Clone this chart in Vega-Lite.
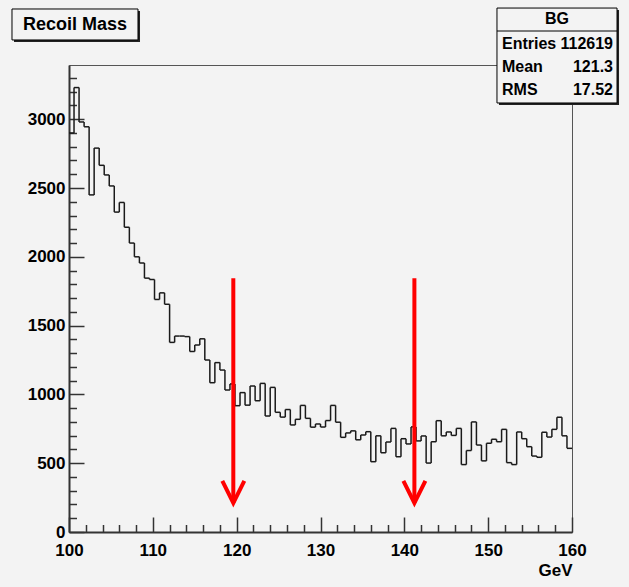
{
  "$schema": "https://vega.github.io/schema/vega-lite/v6.json",
  "width": 503,
  "height": 467,
  "autosize": {"type": "none"},
  "padding": {"left": 69, "top": 65, "right": 57, "bottom": 55},
  "background": "#f3f3f3",
  "config": {"view": {"stroke": "#555555", "strokeWidth": 1}},
  "resolve": {"axis": {"x": "independent", "y": "independent"}},
  "data": {"values": [
    {"lo":100,"hi":100.6,"count":2900},{"lo":100.6,"hi":101.2,"count":3230},{"lo":101.2,"hi":101.8,"count":2980},{"lo":101.8,"hi":102.4,"count":2945},{"lo":102.4,"hi":103,"count":2450},
    {"lo":103,"hi":103.6,"count":2790},{"lo":103.6,"hi":104.2,"count":2665},{"lo":104.2,"hi":104.8,"count":2595},{"lo":104.8,"hi":105.4,"count":2515},{"lo":105.4,"hi":106,"count":2325},
    {"lo":106,"hi":106.6,"count":2395},{"lo":106.6,"hi":107.2,"count":2215},{"lo":107.2,"hi":107.8,"count":2100},{"lo":107.8,"hi":108.4,"count":2000},{"lo":108.4,"hi":109,"count":1955},
    {"lo":109,"hi":109.6,"count":1845},{"lo":109.6,"hi":110.2,"count":1835},{"lo":110.2,"hi":110.8,"count":1690},{"lo":110.8,"hi":111.4,"count":1738},{"lo":111.4,"hi":112,"count":1655},
    {"lo":112,"hi":112.6,"count":1378},{"lo":112.6,"hi":113.2,"count":1424},{"lo":113.2,"hi":113.8,"count":1424},{"lo":113.8,"hi":114.4,"count":1420},{"lo":114.4,"hi":115,"count":1312},
    {"lo":115,"hi":115.6,"count":1359},{"lo":115.6,"hi":116.2,"count":1404},{"lo":116.2,"hi":116.8,"count":1250},{"lo":116.8,"hi":117.4,"count":1085},{"lo":117.4,"hi":118,"count":1231},
    {"lo":118,"hi":118.6,"count":1177},{"lo":118.6,"hi":119.2,"count":1032},{"lo":119.2,"hi":119.8,"count":1076},{"lo":119.8,"hi":120.4,"count":918},{"lo":120.4,"hi":121,"count":1013},
    {"lo":121,"hi":121.6,"count":922},{"lo":121.6,"hi":122.2,"count":1061},{"lo":122.2,"hi":122.8,"count":954},{"lo":122.8,"hi":123.4,"count":1080},{"lo":123.4,"hi":124,"count":843},
    {"lo":124,"hi":124.6,"count":1051},{"lo":124.6,"hi":125.2,"count":870},{"lo":125.2,"hi":125.8,"count":835},{"lo":125.8,"hi":126.4,"count":890},{"lo":126.4,"hi":127,"count":778},
    {"lo":127,"hi":127.6,"count":819},{"lo":127.6,"hi":128.2,"count":920},{"lo":128.2,"hi":128.8,"count":826},{"lo":128.8,"hi":129.4,"count":762},{"lo":129.4,"hi":130,"count":785},
    {"lo":130,"hi":130.6,"count":763},{"lo":130.6,"hi":131.2,"count":810},{"lo":131.2,"hi":131.8,"count":920},{"lo":131.8,"hi":132.4,"count":798},{"lo":132.4,"hi":133,"count":688},
    {"lo":133,"hi":133.6,"count":720},{"lo":133.6,"hi":134.2,"count":735},{"lo":134.2,"hi":134.8,"count":670},{"lo":134.8,"hi":135.4,"count":705},{"lo":135.4,"hi":136,"count":729},
    {"lo":136,"hi":136.6,"count":511},{"lo":136.6,"hi":137.2,"count":699},{"lo":137.2,"hi":137.8,"count":576},{"lo":137.8,"hi":138.4,"count":654},{"lo":138.4,"hi":139,"count":753},
    {"lo":139,"hi":139.6,"count":547},{"lo":139.6,"hi":140.2,"count":678},{"lo":140.2,"hi":140.8,"count":640},{"lo":140.8,"hi":141.4,"count":764},{"lo":141.4,"hi":142,"count":662},
    {"lo":142,"hi":142.6,"count":698},{"lo":142.6,"hi":143.2,"count":501},{"lo":143.2,"hi":143.8,"count":656},{"lo":143.8,"hi":144.4,"count":809},{"lo":144.4,"hi":145,"count":699},
    {"lo":145,"hi":145.6,"count":727},{"lo":145.6,"hi":146.2,"count":702},{"lo":146.2,"hi":146.8,"count":753},{"lo":146.8,"hi":147.4,"count":490},{"lo":147.4,"hi":148,"count":592},
    {"lo":148,"hi":148.6,"count":800},{"lo":148.6,"hi":149.2,"count":632},{"lo":149.2,"hi":149.8,"count":517},{"lo":149.8,"hi":150.4,"count":645},{"lo":150.4,"hi":151,"count":674},
    {"lo":151,"hi":151.6,"count":656},{"lo":151.6,"hi":152.2,"count":746},{"lo":152.2,"hi":152.8,"count":504},{"lo":152.8,"hi":153.4,"count":490},{"lo":153.4,"hi":154,"count":727},
    {"lo":154,"hi":154.6,"count":678},{"lo":154.6,"hi":155.2,"count":620},{"lo":155.2,"hi":155.8,"count":552},{"lo":155.8,"hi":156.4,"count":543},{"lo":156.4,"hi":157,"count":725},
    {"lo":157,"hi":157.6,"count":690},{"lo":157.6,"hi":158.2,"count":746},{"lo":158.2,"hi":158.8,"count":834},{"lo":158.8,"hi":159.4,"count":699},{"lo":159.4,"hi":160,"count":608}
  ]},
  "layer": [
    {
      "mark": {"type": "rule", "color": "#1a1a1a", "strokeWidth": 1.5},
      "encoding": {
        "x": {"field": "lo", "type": "quantitative",
          "scale": {"domain": [100, 160], "nice": false},
          "axis": {
            "orient": "bottom", "title": "GeV", "format": "d",
            "values": [100,110,120,130,140,150,160],
            "grid": false, "domainColor": "#333333", "domainWidth": 2,
            "tickColor": "#333333", "tickWidth": 1.5, "tickSize": -15,
            "labelPadding": 25, "labelFlush": false, "labelOverlap": false,
            "labelFont": "Liberation Sans, Arial, sans-serif", "labelFontSize": 17, "labelFontWeight": "bold", "labelColor": "#000000",
            "titleFont": "Liberation Sans, Arial, sans-serif", "titleFontSize": 17, "titleFontWeight": "bold", "titleColor": "#000000",
            "titleAnchor": "end", "titleAlign": "right", "titlePadding": 4
          }},
        "x2": {"field": "hi"},
        "y": {"field": "count", "type": "quantitative",
          "scale": {"domain": [0, 3394], "nice": false, "zero": false},
          "axis": {
            "orient": "left", "title": null, "format": "d",
            "values": [0,500,1000,1500,2000,2500,3000],
            "grid": false, "domainColor": "#333333", "domainWidth": 2,
            "tickColor": "#333333", "tickWidth": 1.5, "tickSize": -15,
            "labelPadding": 19, "labelOverlap": false, "labelFlush": false,
            "labelFont": "Liberation Sans, Arial, sans-serif", "labelFontSize": 17, "labelFontWeight": "bold", "labelColor": "#000000"
          }}
      }
    },
    {
      "transform": [
        {"window": [{"op": "lag", "field": "count", "as": "prev"}], "sort": [{"field": "lo", "order": "ascending"}]},
        {"filter": "datum.prev != null"}
      ],
      "mark": {"type": "rule", "color": "#1a1a1a", "strokeWidth": 1.5},
      "encoding": {
        "x": {"field": "lo", "type": "quantitative",
          "axis": {
            "orient": "bottom", "title": null, "labels": false, "domain": false, "grid": false,
            "values": [102,104,106,108,112,114,116,118,122,124,126,128,132,134,136,138,142,144,146,148,152,154,156,158],
            "tickColor": "#333333", "tickWidth": 1.5, "tickSize": -7.5
          }},
        "y": {"field": "count", "type": "quantitative",
          "axis": {
            "orient": "left", "title": null, "labels": false, "domain": false, "grid": false,
            "values": [100,200,300,400,600,700,800,900,1100,1200,1300,1400,1600,1700,1800,1900,2100,2200,2300,2400,2600,2700,2800,2900,3100,3200,3300],
            "tickColor": "#333333", "tickWidth": 1.5, "tickSize": -7.5
          }},
        "y2": {"field": "prev"}
      }
    },
    {
      "data": {"values": [{"cut": 119.6, "top": 1845, "tip": 211}, {"cut": 141.2, "top": 1845, "tip": 211}]},
      "mark": {"type": "rule", "color": "#ff0000", "strokeWidth": 4},
      "encoding": {
        "x": {"field": "cut", "type": "quantitative", "axis": null},
        "y": {"field": "top", "type": "quantitative", "axis": null},
        "y2": {"field": "tip"}
      }
    },
    {
      "data": {"values": [{"cut": 119.6, "top": 1845, "tip": 211}, {"cut": 141.2, "top": 1845, "tip": 211}]},
      "mark": {"type": "point", "shape": "M-1,-2L0,0L1,-2", "size": 484, "filled": false, "stroke": "#ff0000", "strokeWidth": 4, "opacity": 1},
      "encoding": {
        "x": {"field": "cut", "type": "quantitative", "axis": null},
        "y": {"field": "tip", "type": "quantitative", "axis": null}
      }
    },
    {
      "data": {"values": [{}]},
      "mark": {"type": "rect", "fill": "#222222"},
      "encoding": {
        "x": {"datum": 93.44, "type": "quantitative", "axis": null}, "x2": {"datum": 108.47},
        "y": {"datum": 3786, "type": "quantitative", "axis": null}, "y2": {"datum": 3561}
      }
    },
    {
      "data": {"values": [{}]},
      "mark": {"type": "rect", "fill": "#f3f3f3", "stroke": "#000000", "strokeWidth": 1},
      "encoding": {
        "x": {"datum": 93.2, "type": "quantitative", "axis": null}, "x2": {"datum": 108.23},
        "y": {"datum": 3801, "type": "quantitative", "axis": null}, "y2": {"datum": 3576}
      }
    },
    {
      "data": {"values": [{}]},
      "mark": {"type": "text", "text": "Recoil Mass", "font": "Liberation Sans, Arial, sans-serif", "fontSize": 18, "fontWeight": "bold", "color": "#000000", "align": "center", "baseline": "middle"},
      "encoding": {
        "x": {"datum": 100.72, "type": "quantitative", "axis": null},
        "y": {"datum": 3688, "type": "quantitative", "axis": null}
      }
    },
    {
      "data": {"values": [{}]},
      "mark": {"type": "rect", "fill": "#222222"},
      "encoding": {
        "x": {"datum": 151.29, "type": "quantitative", "axis": null}, "x2": {"datum": 165.61},
        "y": {"datum": 3794, "type": "quantitative", "axis": null}, "y2": {"datum": 3103}
      }
    },
    {
      "data": {"values": [{}]},
      "mark": {"type": "rect", "fill": "#f3f3f3", "stroke": "#000000", "strokeWidth": 1},
      "encoding": {
        "x": {"datum": 151.05, "type": "quantitative", "axis": null}, "x2": {"datum": 165.37},
        "y": {"datum": 3808, "type": "quantitative", "axis": null}, "y2": {"datum": 3118}
      }
    },
    {
      "data": {"values": [{}]},
      "mark": {"type": "rule", "color": "#000000", "strokeWidth": 1},
      "encoding": {
        "x": {"datum": 151.05, "type": "quantitative", "axis": null}, "x2": {"datum": 165.37},
        "y": {"datum": 3641, "type": "quantitative", "axis": null}
      }
    },
    {
      "data": {"values": [{}]},
      "mark": {"type": "text", "text": "BG", "font": "Liberation Sans, Arial, sans-serif", "fontSize": 16, "fontWeight": "bold", "color": "#000000", "align": "center", "baseline": "middle"},
      "encoding": {
        "x": {"datum": 158.21, "type": "quantitative", "axis": null},
        "y": {"datum": 3728, "type": "quantitative", "axis": null}
      }
    },
    {
      "data": {"values": [{}]},
      "mark": {"type": "text", "text": "Entries", "font": "Liberation Sans, Arial, sans-serif", "fontSize": 16, "fontWeight": "bold", "color": "#000000", "align": "left", "baseline": "middle"},
      "encoding": {
        "x": {"datum": 151.65, "type": "quantitative", "axis": null},
        "y": {"datum": 3547, "type": "quantitative", "axis": null}
      }
    },
    {
      "data": {"values": [{}]},
      "mark": {"type": "text", "text": "112619", "font": "Liberation Sans, Arial, sans-serif", "fontSize": 16, "fontWeight": "bold", "color": "#000000", "align": "right", "baseline": "middle"},
      "encoding": {
        "x": {"datum": 164.89, "type": "quantitative", "axis": null},
        "y": {"datum": 3547, "type": "quantitative", "axis": null}
      }
    },
    {
      "data": {"values": [{}]},
      "mark": {"type": "text", "text": "Mean", "font": "Liberation Sans, Arial, sans-serif", "fontSize": 16, "fontWeight": "bold", "color": "#000000", "align": "left", "baseline": "middle"},
      "encoding": {
        "x": {"datum": 151.65, "type": "quantitative", "axis": null},
        "y": {"datum": 3380, "type": "quantitative", "axis": null}
      }
    },
    {
      "data": {"values": [{}]},
      "mark": {"type": "text", "text": "121.3", "font": "Liberation Sans, Arial, sans-serif", "fontSize": 16, "fontWeight": "bold", "color": "#000000", "align": "right", "baseline": "middle"},
      "encoding": {
        "x": {"datum": 164.89, "type": "quantitative", "axis": null},
        "y": {"datum": 3380, "type": "quantitative", "axis": null}
      }
    },
    {
      "data": {"values": [{}]},
      "mark": {"type": "text", "text": "RMS", "font": "Liberation Sans, Arial, sans-serif", "fontSize": 16, "fontWeight": "bold", "color": "#000000", "align": "left", "baseline": "middle"},
      "encoding": {
        "x": {"datum": 151.65, "type": "quantitative", "axis": null},
        "y": {"datum": 3212, "type": "quantitative", "axis": null}
      }
    },
    {
      "data": {"values": [{}]},
      "mark": {"type": "text", "text": "17.52", "font": "Liberation Sans, Arial, sans-serif", "fontSize": 16, "fontWeight": "bold", "color": "#000000", "align": "right", "baseline": "middle"},
      "encoding": {
        "x": {"datum": 164.89, "type": "quantitative", "axis": null},
        "y": {"datum": 3212, "type": "quantitative", "axis": null}
      }
    }
  ]
}
